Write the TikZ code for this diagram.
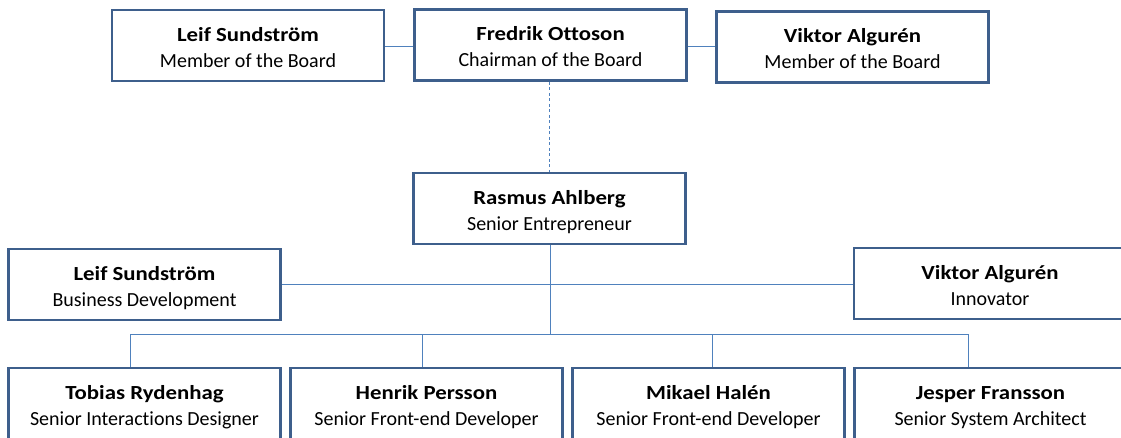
\documentclass[tikz,border=0pt]{standalone}
\usepackage{fontspec}
\setmainfont{Carlito}[Ligatures=NoCommon]
\newfontfamily\namefont{Carlito}[Ligatures=NoCommon, FakeStretch=1.14]
\definecolor{boxborder}{HTML}{3E5F8C}
\definecolor{conn}{HTML}{4F81BD}
\newcommand{\personbox}[5]{%
  \node[box] (#1) at (#2,#3) {};
  \node[nametext] (#1-name) at ([yshift=4.5pt]#1.center) {#4};
  \node[roletext] (#1-role) at ([yshift=-21.5pt]#1.center) {#5};
}
\begin{document}
\begin{tikzpicture}[x=1pt,y=-1pt,
  box/.style={draw=boxborder, line width=2.6pt, fill=white, minimum width=272pt, minimum height=71pt, inner sep=0pt},
  nametext/.style={anchor=base, inner sep=0pt, font=\namefont\bfseries\fontsize{20}{24}\selectfont},
  roletext/.style={anchor=base, inner sep=0pt, font=\fontsize{20}{24}\selectfont},
  link/.style={draw=conn, line width=0.9pt},
  dlink/.style={draw=conn, line width=0.9pt, dash pattern=on 3pt off 2.5pt}]
\useasboundingbox (0,0) rectangle (1121,437);
\clip (0,0) rectangle (1121,437);
\fill[white] (0,0) rectangle (1121,437);
% top row
\personbox{leifb}{248}{45.5}{Leif Sundström}{Member of the Board}
\personbox{fredrik}{550.5}{45}{Fredrik Ottoson}{Chairman of the Board}
\personbox{viktorb}{852.5}{47}{Viktor Algurén}{Member of the Board}
% rasmus
\personbox{rasmus}{549.5}{208.5}{Rasmus Ahlberg}{Senior Entrepreneur}
% middle
\personbox{leifd}{144.5}{284.5}{Leif Sundström}{Business Development}
\personbox{viktori}{990}{283.5}{Viktor Algurén}{Innovator}
% bottom
\personbox{tobias}{144.5}{403.5}{Tobias Rydenhag}{Senior Interactions Designer}
\personbox{henrik}{426.5}{403.5}{Henrik Persson}{Senior Front-end Developer}
\personbox{mikael}{708.5}{403.5}{Mikael Halén}{Senior Front-end Developer}
\personbox{jesper}{990.5}{403.5}{Jesper Fransson}{Senior System Architect}
% connectors
\coordinate (busm) at (550,334);
\draw[link] (leifb.east |- 0,46) -- (fredrik.west |- 0,46);
\draw[link] (fredrik.east |- 0,46) -- (viktorb.west |- 0,46);
\draw[dlink] (fredrik.south -| 549,0) -- (rasmus.north -| 549,0);
\draw[link] (rasmus.south -| busm) -- (busm);
\draw[link] (leifd.east |- 0,284) -- (viktori.west |- 0,284);
\draw[link] (tobias.north -| 130,0) -- (130,334) -- (968,334) -- (jesper.north -| 968,0);
\draw[link] (henrik.north -| 422,0) -- (422,334);
\draw[link] (mikael.north -| 712,0) -- (712,334);
\end{tikzpicture}
\end{document}
